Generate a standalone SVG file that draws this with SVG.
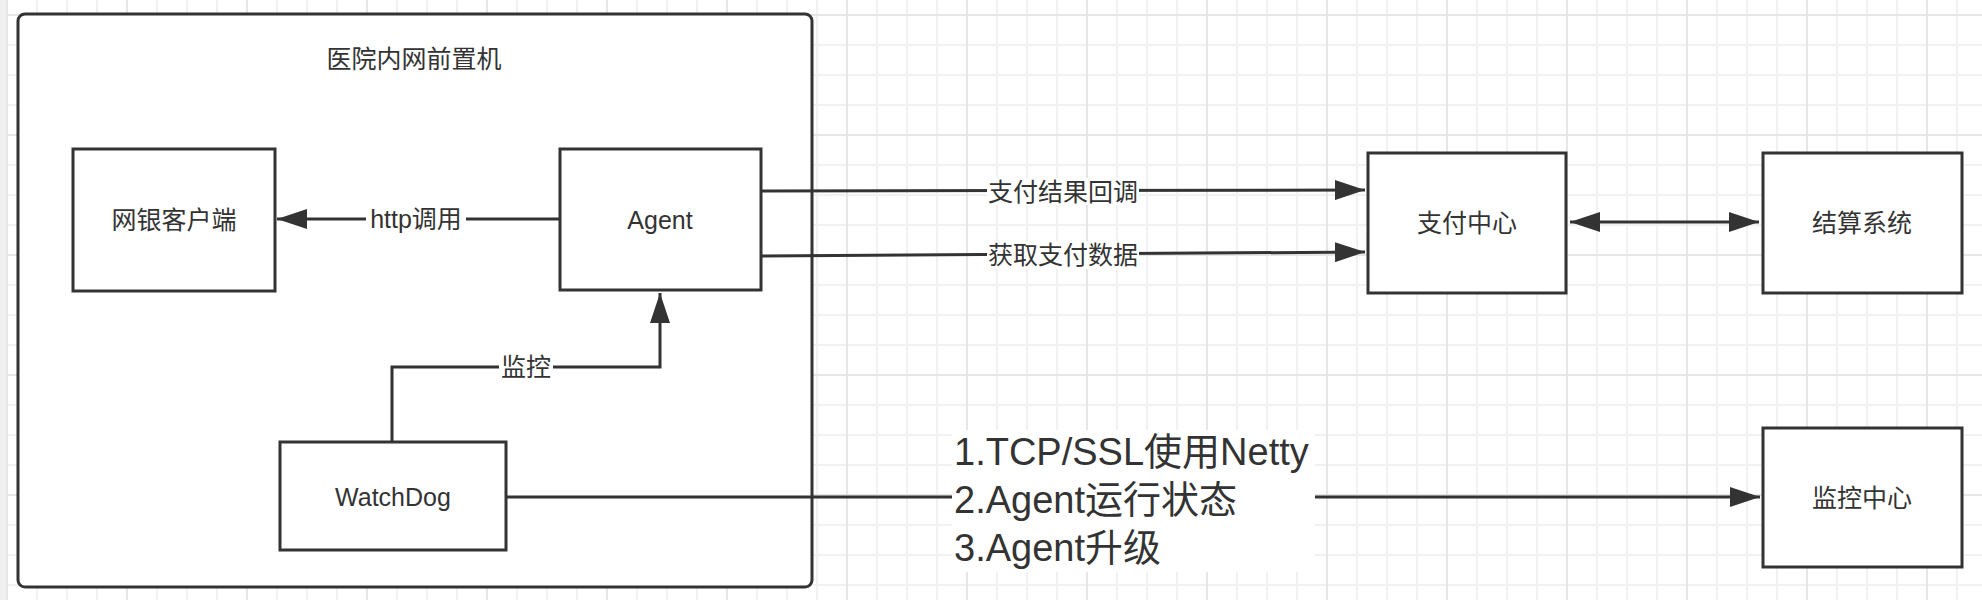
<svg xmlns="http://www.w3.org/2000/svg" width="1982" height="600" viewBox="0 0 1982 600">
  <style>
    .box { fill: #ffffff; stroke: #333333; stroke-width: 3; }
    .lbl { font-family: "Liberation Sans", "Noto Sans CJK SC", sans-serif; font-size: 25px; fill: #333333; text-anchor: middle; dominant-baseline: central; }
    .big { font-family: "Liberation Sans", "Noto Sans CJK SC", sans-serif; font-size: 38px; fill: #333333; }
    .edge { fill: none; stroke: #333333; stroke-width: 3; }
    .bg { fill: #ffffff; }
  </style>
  <defs>
    <pattern id="grid" patternUnits="userSpaceOnUse" x="6" y="14" width="120" height="120">
      <rect x="0" y="0" width="120" height="120" fill="#ffffff"/>
      <rect x="30" y="0" width="2" height="120" fill="#f1f1f1"/>
      <rect x="60" y="0" width="2" height="120" fill="#f1f1f1"/>
      <rect x="90" y="0" width="2" height="120" fill="#f1f1f1"/>
      <rect x="0" y="30" width="120" height="2" fill="#f1f1f1"/>
      <rect x="0" y="60" width="120" height="2" fill="#f1f1f1"/>
      <rect x="0" y="90" width="120" height="2" fill="#f1f1f1"/>
      <rect x="0" y="0" width="2" height="120" fill="#e6e6e9"/>
      <rect x="0" y="0" width="120" height="2" fill="#e6e6e9"/>
    </pattern>
    <marker id="arr" markerUnits="userSpaceOnUse" markerWidth="30" markerHeight="20" refX="30" refY="10" orient="auto-start-reverse" viewBox="0 0 30 20">
      <path d="M0,0 L30,10 L0,20 Z" fill="#333333"/>
    </marker>
  </defs>

  <rect x="0" y="0" width="1982" height="600" fill="url(#grid)"/>
  <rect x="0" y="0" width="6" height="600" fill="#f0f0f0"/>

  <g id="container">
    <rect class="box" x="18" y="14" width="794" height="573" rx="7" ry="7"/>
    <text class="lbl" x="414" y="59">医院内网前置机</text>
  </g>

  <g id="connectors">
    <path class="edge" d="M560,219 L277,219" marker-end="url(#arr)"/>
    <path class="edge" d="M392,442 L392,367 L660,367 L660,293" marker-end="url(#arr)"/>
    <path class="edge" d="M761,191 L1365,190" marker-end="url(#arr)"/>
    <path class="edge" d="M761,256 L1365,252" marker-end="url(#arr)"/>
    <path class="edge" d="M1570,222 L1759,222" marker-start="url(#arr)" marker-end="url(#arr)"/>
    <path class="edge" d="M506,497 L1760,497" marker-end="url(#arr)"/>

    <rect class="bg" x="366" y="206" width="100" height="27"/>
    <text class="lbl" x="416" y="219">http调用</text>
    <rect class="bg" x="499" y="354" width="54" height="27"/>
    <text class="lbl" x="526" y="367">监控</text>
    <rect class="bg" x="987" y="178" width="152" height="27"/>
    <text class="lbl" x="1063" y="192">支付结果回调</text>
    <rect class="bg" x="987" y="241" width="152" height="28"/>
    <text class="lbl" x="1063" y="255">获取支付数据</text>
    <rect class="bg" x="952" y="430" width="363" height="142"/>
    <text class="big" x="954" y="465">1.TCP/SSL使用Netty</text>
    <text class="big" x="954" y="513">2.Agent运行状态</text>
    <text class="big" x="954" y="561">3.Agent升级</text>
  </g>

  <g id="wangyin">
    <rect class="box" x="73" y="149" width="202" height="142"/>
    <text class="lbl" x="174" y="220">网银客户端</text>
  </g>
  <g id="agent">
    <rect class="box" x="560" y="149" width="201" height="141"/>
    <text class="lbl" x="660" y="220">Agent</text>
  </g>
  <g id="watchdog">
    <rect class="box" x="280" y="442" width="226" height="108"/>
    <text class="lbl" x="393" y="497">WatchDog</text>
  </g>
  <g id="zhifu">
    <rect class="box" x="1368" y="153" width="198" height="140"/>
    <text class="lbl" x="1467" y="223">支付中心</text>
  </g>
  <g id="jiesuan">
    <rect class="box" x="1763" y="153" width="199" height="140"/>
    <text class="lbl" x="1862" y="223">结算系统</text>
  </g>
  <g id="jiankong">
    <rect class="box" x="1763" y="428" width="199" height="139"/>
    <text class="lbl" x="1862" y="498">监控中心</text>
  </g>
</svg>
